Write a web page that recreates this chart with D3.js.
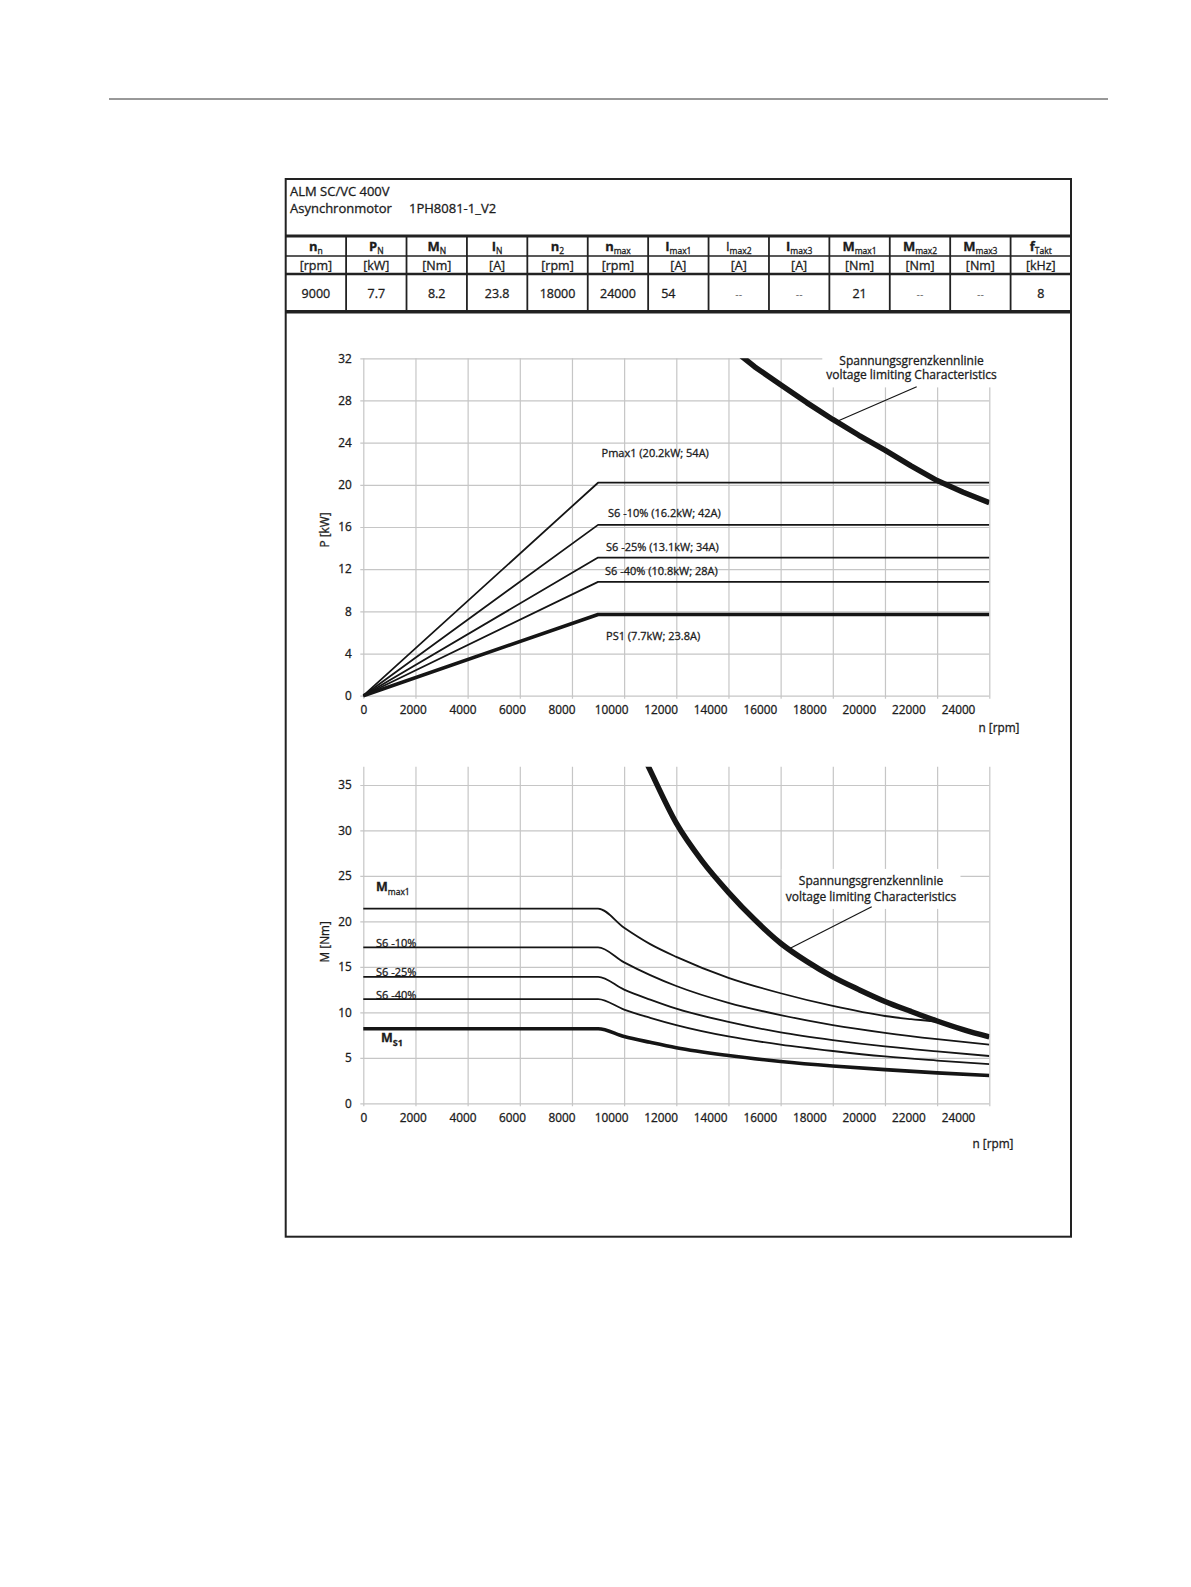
<!DOCTYPE html>
<html>
<head>
<meta charset="utf-8">
<script src="https://cdn.jsdelivr.net/npm/d3@7"></script>
<style>
  body { margin: 0; background: #fff; }
  svg text { font-family: "Open Sans", "Noto Sans", sans-serif; fill: #1c1c1c; stroke: #1c1c1c; stroke-width: 0.3px; }
</style>
</head>
<body>
<svg id="chart" width="1191" height="1587"></svg>
<script>
// ---------- DATA ----------
const titleLine1 = "ALM SC/VC 400V";
const titleLine2 = ["Asynchronmotor", "1PH8081-1_V2"];

// [symbol, subscript, symbol bold]
const colSymbols = [
    ["n", "n", true], ["P", "N", true], ["M", "N", true], ["I", "N", true],
    ["n", "2", true], ["n", "max", true], ["I", "max1", true], ["I", "max2", false],
    ["I", "max3", true], ["M", "max1", true], ["M", "max2", true], ["M", "max3", true],
    ["f", "Takt", true]
];
const colUnits = ["[rpm]", "[kW]", "[Nm]", "[A]", "[rpm]", "[rpm]", "[A]", "[A]", "[A]", "[Nm]", "[Nm]", "[Nm]", "[kHz]"];
const colValues = ["9000", "7.7", "8.2", "23.8", "18000", "24000", "54", "--", "--", "21", "--", "--", "8"];

const speedTicks = [0, 2000, 4000, 6000, 8000, 10000, 12000, 14000, 16000, 18000, 20000, 22000, 24000];
const powerTicks = [0, 4, 8, 12, 16, 20, 24, 28, 32];
const torqueTicks = [0, 5, 10, 15, 20, 25, 30, 35];

// power [rpm, kW]
const pMax1 = [[0, 0], [9000, 20.2], [24000, 20.2]];
const pS6_10 = [[0, 0], [9000, 16.2], [24000, 16.2]];
const pS6_25 = [[0, 0], [9000, 13.1], [24000, 13.1]];
const pS6_40 = [[0, 0], [9000, 10.8], [24000, 10.8]];
const pS1 = [[0, 0], [9000, 7.7], [24000, 7.7]];
const pVoltage = [[14400, 32.4], [15000, 31.2], [16000, 29.5], [17000, 27.8], [18000, 26.2], [19000, 24.7],
    [20000, 23.3], [21000, 21.8], [22000, 20.4], [23000, 19.3], [24000, 18.3]];
const pLabels = ["Pmax1 (20.2kW; 54A)", "S6 -10% (16.2kW; 42A)", "S6 -25% (13.1kW; 34A)", "S6 -40% (10.8kW; 28A)", "PS1 (7.7kW; 23.8A)"];

// torque [rpm, Nm]
const mMax1 = [[0, 21.4], [9000, 21.4], [10000, 19.3], [11000, 17.5], [12000, 16.1], [14000, 13.8], [16000, 12.1],
    [18000, 10.7], [20000, 9.6], [21000, 9.25], [22000, 8.95], [23000, 8.1], [24000, 7.3]];
const mS6_10 = [[0, 17.15], [9000, 17.15], [10000, 15.5], [11000, 14.1], [12000, 12.9], [14000, 11.05], [16000, 9.7],
    [18000, 8.6], [20000, 7.75], [22000, 7.05], [24000, 6.45]];
const mS6_25 = [[0, 13.9], [9000, 13.9], [10000, 12.5], [11000, 11.4], [12000, 10.4], [14000, 8.95], [16000, 7.8],
    [18000, 6.95], [20000, 6.25], [22000, 5.7], [24000, 5.2]];
const mS6_40 = [[0, 11.45], [9000, 11.45], [10000, 10.3], [11000, 9.4], [12000, 8.6], [14000, 7.35], [16000, 6.45],
    [18000, 5.75], [20000, 5.15], [22000, 4.7], [24000, 4.3]];
const mS1 = [[0, 8.2], [9000, 8.2], [10000, 7.35], [11000, 6.7], [12000, 6.1], [14000, 5.25], [16000, 4.6],
    [18000, 4.1], [20000, 3.7], [22000, 3.35], [24000, 3.05]];
const mVoltage = [[10800, 37.8], [11000, 36.6], [12000, 30.8], [13000, 26.6], [14000, 23.2], [15000, 20.2], [16000, 17.6],
    [17000, 15.6], [18000, 13.9], [19000, 12.5], [20000, 11.2], [21000, 10.1], [22000, 9.05], [23000, 8.1], [24000, 7.3]];
const mLabels = [["M", "max1"], ["S6 -10%", ""], ["S6 -25%", ""], ["S6 -40%", ""], ["M", "S1"]];

const voltageNote = ["Spannungsgrenzkennlinie", "voltage limiting Characteristics"];

// ---------- LAYOUT ----------
const FRAME = { left: 285.7, right: 1071, top: 179, bottom: 1236.7 };
const PLOT = { left: 363.3, width: 626 };
const INK = "#151515";
const GRID = "#c6c6c6";

const svg = d3.select("#chart");
svg.append("rect").attr("width", 1191).attr("height", 1587).attr("fill", "#fff");

// page rule
svg.append("line")
    .attr("x1", 109).attr("x2", 1108).attr("y1", 99).attr("y2", 99)
    .attr("stroke", "#333").attr("stroke-width", 1);

// outer frame
svg.append("rect")
    .attr("x", FRAME.left).attr("y", FRAME.top)
    .attr("width", FRAME.right - FRAME.left).attr("height", FRAME.bottom - FRAME.top)
    .attr("fill", "none").attr("stroke", "#222").attr("stroke-width", 2);

// ---------- TABLE ----------
function drawTable() {
    const g = svg.append("g").attr("class", "table");

    g.append("text").attr("x", 290).attr("y", 195.5).style("font-size", "13px").text(titleLine1);
    g.append("text").attr("x", 290).attr("y", 213).style("font-size", "13px").text(titleLine2[0]);
    g.append("text").attr("x", 409).attr("y", 213).style("font-size", "13px").text(titleLine2[1]);

    const col = d3.scaleBand().domain(d3.range(colUnits.length)).range([FRAME.left, FRAME.right]);
    const rows = [[236, 3], [256, 1.5], [274, 2.5], [311.7, 3.5]];

    g.selectAll("line.hrow").data(rows).enter().append("line")
        .attr("class", "hrow")
        .attr("x1", FRAME.left).attr("x2", FRAME.right)
        .attr("y1", d => d[0]).attr("y2", d => d[0])
        .attr("stroke", "#222").attr("stroke-width", d => d[1]);

    g.selectAll("line.vcol").data(d3.range(1, colUnits.length)).enter().append("line")
        .attr("class", "vcol")
        .attr("x1", d => col(d)).attr("x2", d => col(d))
        .attr("y1", 236).attr("y2", 311.7)
        .attr("stroke", "#222").attr("stroke-width", 1.8);

    const cx = i => col(i) + col.bandwidth() / 2;

    const sym = g.selectAll("text.sym").data(colSymbols).enter().append("text")
        .attr("class", "sym")
        .attr("x", (d, i) => cx(i)).attr("y", 251)
        .attr("text-anchor", "middle");
    sym.append("tspan")
        .style("font-size", "13px")
        .style("font-weight", d => d[2] ? "bold" : "normal")
        .text(d => d[0]);
    sym.append("tspan")
        .attr("dy", 2.5)
        .style("font-size", "8.5px")
        .text(d => d[1]);

    g.selectAll("text.unit").data(colUnits).enter().append("text")
        .attr("class", "unit")
        .attr("x", (d, i) => cx(i)).attr("y", 269.5)
        .attr("text-anchor", "middle")
        .style("font-size", "12.5px")
        .text(d => d);

    g.selectAll("text.val").data(colValues).enter().append("text")
        .attr("class", "val")
        .attr("x", (d, i) => d === "54" ? cx(i) - 10 : cx(i)).attr("y", 297.8)
        .attr("text-anchor", "middle")
        .style("font-size", d => d === "--" ? "10.5px" : "12.5px")
        .style("fill", d => d === "--" ? "#666" : null)
        .style("stroke", d => d === "--" ? "none" : null)
        .text(d => d);
}

// ---------- CHARTS ----------
function drawChart(cfg) {
    const w = PLOT.width, h = cfg.height;
    const g = svg.append("g").attr("transform", `translate(${PLOT.left},${cfg.top})`);

    const x = d3.scaleLinear().domain([0, 24000]).range([0, w]);
    // tick labels in the source are printed on a slightly compressed pitch
    const xLab = d3.scaleLinear().domain([0, 24000]).range([0, w * 0.95]);
    const y = d3.scaleLinear().domain(cfg.yDomain).range([h, 0]);

    //grid
    g.append("g")
        .call(d3.axisLeft(y).tickValues(cfg.yTicks).tickSize(-w).tickFormat(""))
        .call(a => a.select(".domain").remove())
        .call(a => a.selectAll("line").attr("x1", -3).attr("stroke", GRID).attr("stroke-width", 1.2));

    g.append("g").attr("transform", `translate(0,${h})`)
        .call(d3.axisBottom(x).tickValues(speedTicks).tickSize(-h).tickFormat(""))
        .call(a => a.select(".domain").remove())
        .call(a => a.selectAll("line").attr("y1", 3).attr("stroke", GRID).attr("stroke-width", 1.2));

    //tick labels
    g.append("g")
        .call(d3.axisLeft(y).tickValues(cfg.yTicks).tickSize(0).tickPadding(11.5))
        .call(a => a.select(".domain").remove())
        .call(a => a.selectAll("text").style("font-size", "11.8px"));

    g.append("g").attr("transform", `translate(0,${h})`)
        .call(d3.axisBottom(xLab).tickValues(speedTicks).tickSize(0).tickPadding(cfg.xPad).tickFormat(d3.format("d")))
        .call(a => a.select(".domain").remove())
        .call(a => a.selectAll("text").style("font-size", "11.8px"));

    //axis titles
    g.append("text")
        .attr("transform", `translate(-38.3,${cfg.yTitleY}) rotate(-90)`)
        .attr("text-anchor", "middle").attr("dy", "0.35em")
        .style("font-size", "11.8px")
        .text(cfg.yTitle);
    g.append("text")
        .attr("x", cfg.xTitle[0]).attr("y", cfg.xTitle[1])
        .attr("text-anchor", "middle").attr("dy", "0.35em")
        .style("font-size", "11.8px")
        .text("n [rpm]");

    //annotation box (white background hides the grid)
    const note = g.append("g").attr("class", "note");
    const noteBg = note.append("rect").attr("fill", "#fff");
    note.selectAll("text").data(voltageNote).enter().append("text")
        .attr("x", cfg.note.cx).attr("y", (d, i) => cfg.note.cy + i * cfg.note.gap)
        .attr("text-anchor", "middle").attr("dy", "0.35em")
        .style("font-size", "12px")
        .text(d => d);
    const bb = note.node().getBBox();
    noteBg.attr("x", bb.x - 4).attr("y", bb.y - 3).attr("width", bb.width + 8).attr("height", bb.height + 7);

    //curves
    g.append("clipPath").attr("id", cfg.id + "-clip")
        .append("rect").attr("x", -6).attr("y", 0).attr("width", w + 6).attr("height", h + 6);

    const line = d3.line()
        .x(d => x(d[0])).y(d => y(d[1]))
        .curve(cfg.curve);

    const curvesG = g.append("g").attr("clip-path", `url(#${cfg.id}-clip)`);
    curvesG.selectAll("path.curve").data(cfg.series).enter().append("path")
        .attr("class", "curve")
        .attr("d", d => line(d.data))
        .attr("fill", "none")
        .attr("stroke", INK)
        .attr("stroke-width", d => d.width)
        .attr("stroke-linejoin", "round");

    //leader line
    g.append("line")
        .attr("x1", cfg.note.from[0]).attr("y1", cfg.note.from[1])
        .attr("x2", x(cfg.note.target[0])).attr("y2", y(cfg.note.target[1]))
        .attr("stroke", INK).attr("stroke-width", 1.2);

    //curve labels
    cfg.labels.forEach((lab, i) => {
        const s = cfg.series[i];
        const anchor = s.data[s.labelAt];
        const t = g.append("text")
            .attr("x", x(anchor[0]) + lab.dx)
            .attr("y", y(anchor[1]) + lab.dy);
        t.append("tspan")
            .style("font-size", lab.size)
            .style("font-weight", lab.bold ? "bold" : "normal")
            .text(lab.text);
        if (lab.sub) {
            t.append("tspan")
                .attr("dy", 4)
                .style("font-size", lab.subSize)
                .style("font-weight", lab.subBold ? "bold" : "normal")
                .text(lab.sub);
        }
    });
}

drawTable();

// power chart
drawChart({
    id: "power",
    top: 358.3,
    height: 337.4,
    yDomain: [0, 32],
    yTicks: powerTicks,
    xPad: 10,
    yTitle: "P [kW]",
    yTitleY: 171.7,
    xTitle: [635.7, 369.7],
    curve: d3.curveLinear,
    series: [
        { data: pMax1, width: 1.8, labelAt: 1 },
        { data: pS6_10, width: 1.8, labelAt: 1 },
        { data: pS6_25, width: 1.8, labelAt: 1 },
        { data: pS6_40, width: 1.8, labelAt: 1 },
        { data: pS1, width: 3.6, labelAt: 1 },
        { data: pVoltage, width: 5.5 }
    ],
    labels: [
        { text: pLabels[0], dx: 3.5, dy: -26, size: "11px" },
        { text: pLabels[1], dx: 10, dy: -8, size: "11px" },
        { text: pLabels[2], dx: 8, dy: -7, size: "11px" },
        { text: pLabels[3], dx: 7, dy: -7, size: "11px" },
        { text: pLabels[4], dx: 8, dy: 25.5, size: "11px" }
    ],
    note: { cx: 548.2, cy: 2.4, gap: 14.5, from: [553.4, 28.4], target: [18150, 26.0] }
});

// torque chart
drawChart({
    id: "torque",
    top: 766.8,
    height: 336.5,
    yDomain: [0, 37],
    yTicks: torqueTicks,
    xPad: 10,
    yTitle: "M [Nm]",
    yTitleY: 175,
    xTitle: [629.7, 377.2],
    curve: d3.curveMonotoneX,
    series: [
        { data: mMax1, width: 1.8, labelAt: 0 },
        { data: mS6_10, width: 1.8, labelAt: 0 },
        { data: mS6_25, width: 1.8, labelAt: 0 },
        { data: mS6_40, width: 1.8, labelAt: 0 },
        { data: mS1, width: 3.6, labelAt: 0 },
        { data: mVoltage, width: 5.5 }
    ],
    labels: [
        { text: mLabels[0][0], sub: mLabels[0][1], dx: 12.7, dy: -17.6, size: "12.5px", bold: true, subSize: "8.5px" },
        { text: mLabels[1][0], dx: 12.7, dy: 0, size: "11px" },
        { text: mLabels[2][0], dx: 12.7, dy: -1, size: "11px" },
        { text: mLabels[3][0], dx: 12.7, dy: -0.5, size: "11px" },
        { text: mLabels[4][0], sub: mLabels[4][1], dx: 17.7, dy: 13, size: "12.5px", bold: true, subSize: "9px", subBold: true }
    ],
    note: { cx: 507.7, cy: 113.9, gap: 16, from: [508.4, 139.9], target: [16330, 17.0] }
});
</script>
</body>
</html>
